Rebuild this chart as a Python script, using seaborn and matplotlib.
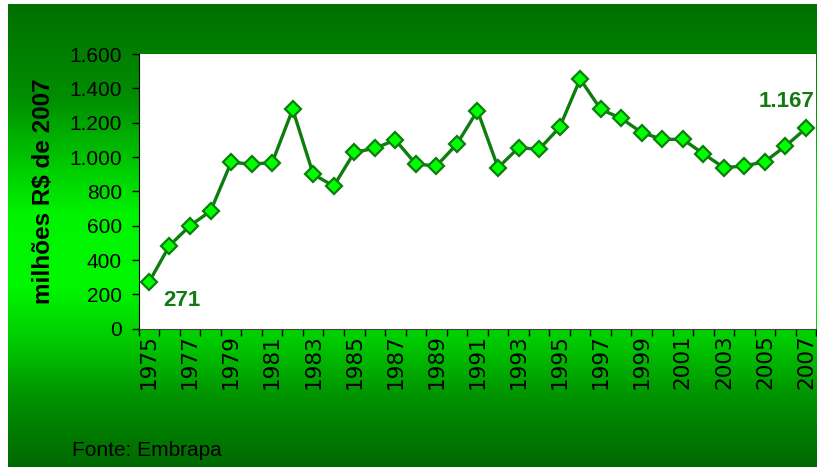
import numpy as np
import pandas as pd
import matplotlib
matplotlib.use("Agg")
import matplotlib.pyplot as plt
import seaborn as sns
from matplotlib.ticker import FuncFormatter

# Data (millions R$ of 2007)
years = list(range(1975, 2008))
values = [271, 484, 600, 685, 969, 959, 967, 1278, 899, 831,
          1027, 1051, 1099, 959, 948, 1076, 1270, 938, 1054, 1045,
          1173, 1454, 1278, 1225, 1142, 1103, 1103, 1019, 938, 948,
          973, 1064, 1167]
label_years = [1975, 2007]
y_ticks = [0, 200, 400, 600, 800, 1000, 1200, 1400, 1600]

df = pd.DataFrame({"Ano": years, "Valor": values})

sns.set_style("white")
plt.rcParams['font.family'] = ['Liberation Sans', 'DejaVu Sans']

W, H = 817, 468
fig = plt.figure(figsize=(W / 100, H / 100), dpi=100)
fig.patch.set_facecolor("white")

# green gradient background box
bg = fig.add_axes([8 / W, 1 / H, 1 - 8 / W, (467 - 4) / H])
rows = np.arange(4, 468)
g = np.interp(rows, [4, 100, 167, 215, 285, 335, 400, 467],
              [0x70, 0x8f, 0xcc, 0xf4, 0xf8, 0xd0, 0x90, 0x68]) / 255
grad = np.zeros((len(rows), 1, 3))
grad[:, 0, 1] = g
bg.imshow(grad, aspect="auto", extent=[0, 1, 0, 1], origin="upper")
bg.set_axis_off()

ax = fig.add_axes([138.7 / W, (H - 328.7) / H, (816.3 - 138.7) / W, (328.7 - 54) / H])
ax.set_facecolor("white")

line_col = "#0d7d0d"
sns.lineplot(data=df, x="Ano", y="Valor", ax=ax, color=line_col, lw=2.4,
             marker="D", markersize=8, markerfacecolor="#00ff00",
             markeredgecolor=line_col, markeredgewidth=1.6, clip_on=False)

ax.set_xlim(1974.5, 2007.5)
ax.set_ylim(0, 1600)
ax.set_yticks(y_ticks)
ax.yaxis.set_major_formatter(FuncFormatter(lambda v, p: f"{v:,.0f}".replace(",", ".")))
ax.tick_params(axis="y", direction="out", length=5, width=1, pad=7,
               labelsize=15, colors="black", left=True)

ax.set_xticks([y for y in years if y % 2 == 1])
ax.set_xticklabels([str(y) for y in years if y % 2 == 1], rotation=90,
                   fontsize=15.5, family="DejaVu Sans")
ax.set_xticks(np.arange(1974.5, 2008, 1), minor=True)
ax.tick_params(axis="x", which="major", length=0, pad=4, colors="black")
ax.tick_params(axis="x", which="minor", direction="out", length=5, width=1,
               bottom=True, color="black")

for s in ["top", "right"]:
    ax.spines[s].set_visible(False)
ax.spines["left"].set_color("black")
ax.spines["bottom"].set_color("#444444")

ax.set_xlabel("")
ax.set_ylabel("milhões R$ de 2007", fontsize=17.5, fontweight="bold", color="black")
ax.yaxis.set_label_coords(-0.123, 0.5)

# value labels for first and last year
txt_col = "#0f7a0f"
ax.annotate(f"{values[0]}", (label_years[0], values[0]), xytext=(10, -13),
            textcoords="offset points", fontsize=16, fontweight="bold",
            color=txt_col, ha="left", va="center")
ax.annotate(f"{values[-1]:,}".replace(",", "."), (label_years[1], values[-1]),
            xytext=(-14, 19), textcoords="offset points", fontsize=16,
            fontweight="bold", color=txt_col, ha="center", va="center")

fig.text(72 / W, (H - 456) / H, "Fonte: Embrapa", fontsize=15, color="black",
         va="baseline", ha="left")

fig.savefig("out.png", dpi=100)
